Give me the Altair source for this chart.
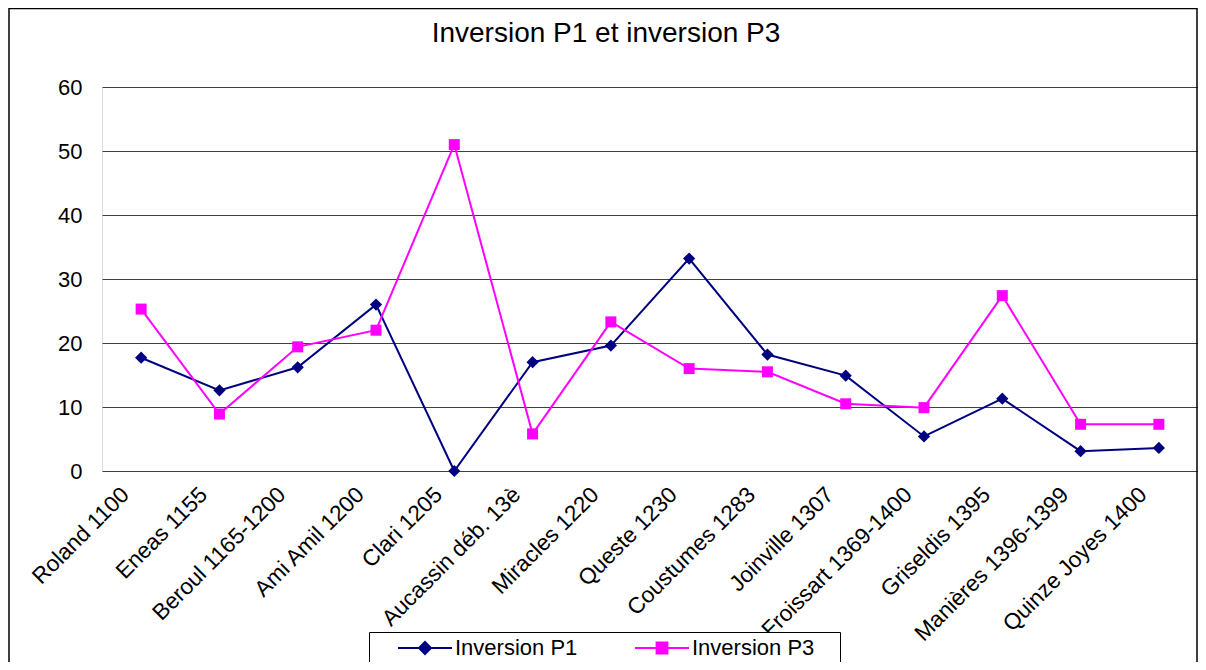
import altair as alt
import pandas as pd

categories = ["Roland 1100", "Eneas 1155", "Beroul 1165-1200", "Ami Amil 1200", "Clari 1205",
              "Aucassin déb. 13è", "Miracles 1220", "Queste 1230", "Coustumes 1283",
              "Joinville 1307", "Froissart 1369-1400", "Griseldis 1395",
              "Manières 1396-1399", "Quinze Joyes 1400"]
inversion_p1 = [17.7, 12.6, 16.2, 26.0, 0.0, 17.0, 19.6, 33.2, 18.2, 14.9, 5.4, 11.3, 3.1, 3.6]
inversion_p3 = [25.3, 8.9, 19.4, 22.0, 51.0, 5.8, 23.3, 16.0, 15.5, 10.5, 9.9, 27.4, 7.3, 7.3]
series_names = ["Inversion P1", "Inversion P3"]
series_colors = ["#000080", "#FF00FF"]
y_ticks = [0, 10, 20, 30, 40, 50, 60]

rows = []
for s, vals in zip(series_names, [inversion_p1, inversion_p3]):
    for c, v in zip(categories, vals):
        rows.append({"cat": c, "series": s, "value": v})
df = pd.DataFrame(rows)

FONT = "Liberation Sans"
W, H = 1096, 384

x_enc = alt.X("cat:N", sort=categories, scale=alt.Scale(type="point", padding=0.5),
              axis=alt.Axis(title=None, labelAngle=-45, labelFont=FONT, labelFontSize=22.5,
                            labelColor="black", domain=False, ticks=False, labelPadding=12,
                            labelOffset=-24, labelLimit=0, grid=False))
y_enc = alt.Y("value:Q", scale=alt.Scale(domain=[0, 60], nice=False),
              axis=alt.Axis(title=None, values=y_ticks, labelFont=FONT, labelFontSize=22,
                            labelColor="black", domain=False, ticks=False, labelPadding=20,
                            grid=True, gridColor="#404040", gridWidth=1.2))

base = alt.Chart(df)

line1 = base.transform_filter(alt.datum.series == series_names[0]).mark_line(
    strokeWidth=2, color=series_colors[0]).encode(x=x_enc, y=y_enc)
line3 = base.transform_filter(alt.datum.series == series_names[1]).mark_line(
    strokeWidth=2, color=series_colors[1]).encode(x=x_enc, y=y_enc)

pts1 = base.transform_filter(alt.datum.series == series_names[0]).mark_point(
    shape="diamond", filled=True, size=150, color=series_colors[0], opacity=1
).encode(x=x_enc, y=y_enc)

pts3 = base.transform_filter(alt.datum.series == series_names[1]).mark_point(
    shape="square", filled=True, size=121, color=series_colors[1], opacity=1
).encode(x=x_enc, y=y_enc)

# legend symbols: line segment through the marker (unit = 6px)
path_p1 = "M-4.5,0H4.5M-1,0L0,-1L1,0L0,1Z"
path_p3 = "M-4.5,0H4.5M-0.9,-0.9H0.9V0.9H-0.9Z"

legend_layer = base.transform_filter("false").mark_point(filled=True, opacity=1, strokeWidth=2).encode(
    x=x_enc, y=y_enc,
    color=alt.Color("series:N", scale=alt.Scale(domain=series_names, range=series_colors),
                    legend=alt.Legend(title="\u00a0", titleOrient="right", titlePadding=21,
                                      titleFontSize=22, titleFont=FONT,
                                      orient="none", legendX=267, legendY=545,
                                      direction="horizontal", symbolSize=144,
                                      symbolStrokeWidth=2, symbolOffset=40, labelOffset=19,
                                      columnPadding=33, padding=5, strokeColor="black",
                                      fillColor="white",
                                      labelFont=FONT, labelFontSize=22, labelColor="black",
                                      labelLimit=0, symbolOpacity=1)),
    stroke=alt.Stroke("series:N", scale=alt.Scale(domain=series_names, range=series_colors)),
    shape=alt.Shape("series:N", scale=alt.Scale(domain=series_names, range=[path_p1, path_p3])),
)

frame = alt.Chart(pd.DataFrame({"a": [0]})).mark_rect(
    fillOpacity=0, stroke="black", strokeWidth=1.5
).encode(x=alt.value(-93), x2=alt.value(1095), y=alt.value(-78.5), y2=alt.value(700))

chart = alt.layer(frame, line1, line3, pts1, pts3, legend_layer).properties(
    width=W, height=H,
    title=alt.TitleParams("Inversion P1 et inversion P3", font=FONT, fontSize=28,
                          fontWeight="normal", color="black", anchor="middle", frame="group",
                          dx=-44, offset=-62, baseline="alphabetic"),
    autosize=alt.AutoSizeParams(type="none"),
    padding={"left": 94, "top": 79, "right": 0, "bottom": 191},
).configure_view(stroke=None).configure(background="white")

chart.save("out.html", embed_options={"renderer": "svg", "actions": False})
